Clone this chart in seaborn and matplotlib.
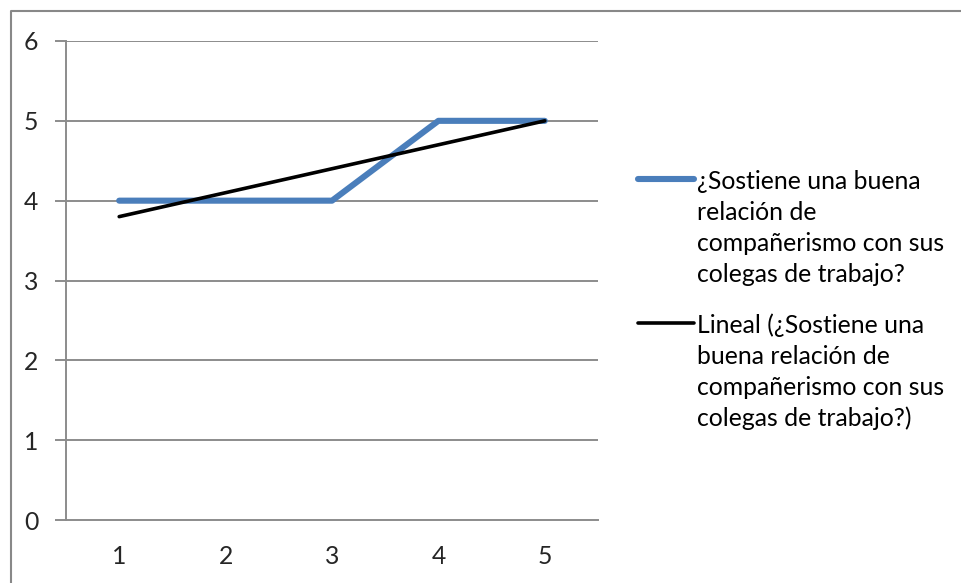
import numpy as np
import pandas as pd
import matplotlib
matplotlib.use("Agg")
import matplotlib.pyplot as plt
from matplotlib.lines import Line2D
import seaborn as sns

# Survey responses per item
categories = [1, 2, 3, 4, 5]
values = [4, 4, 4, 5, 5]
y_ticks = [0, 1, 2, 3, 4, 5, 6]

series_label = ["¿Sostiene una buena", "relación de",
                "compañerismo con sus", "colegas de trabajo?"]
trend_label = ["Lineal (¿Sostiene una", "buena relación de",
               "compañerismo con sus", "colegas de trabajo?)"]

sns.set_theme(style="white")
plt.rcParams["font.family"] = ["Lato", "DejaVu Sans"]

df = pd.DataFrame({"x": categories, "y": values})

W, H = 961, 583
fig = plt.figure(figsize=(W / 100, H / 100), dpi=100)
ax = fig.add_axes([66 / W, 1 - 520 / H, 532 / W, 479 / H])

grid_col = "#8c8c8c"
blue = "#4A7EBB"
fs = 17.8

ax.set_ylim(0, 6)
ax.set_xlim(0.5, 5.5)
ax.set_yticks(y_ticks)
for t in y_ticks[1:]:
    ax.axhline(t, color=grid_col, lw=1.4, zorder=0)

sns.lineplot(data=df, x="x", y="y", ax=ax, color=blue, lw=4.4,
             solid_capstyle="round", zorder=3, legend=False)
sns.regplot(data=df, x="x", y="y", ax=ax, scatter=False, ci=None,
            color="black", line_kws={"lw": 2.6, "zorder": 4}, truncate=True)
ax.set_xlabel("")
ax.set_ylabel("")

# Category axis: ticks on category boundaries, labels at centres
ax.set_xticks(np.arange(0.5, 6.0, 1.0))
ax.set_xticklabels([])
ax.set_xticks(categories, minor=True)
ax.set_xticklabels([str(c) for c in categories], minor=True)
ax.tick_params(axis="x", which="major", length=8, width=1.4, color=grid_col, direction="out")
ax.tick_params(axis="x", which="minor", length=0, pad=18, labelsize=fs)
ax.tick_params(axis="y", length=8, width=1.4, color=grid_col, direction="out",
               pad=12, labelsize=fs, left=True)
ax.set_yticklabels([str(t) for t in y_ticks])

for side in ["top", "right"]:
    ax.spines[side].set_visible(False)
for side in ["left", "bottom"]:
    ax.spines[side].set_color(grid_col)
    ax.spines[side].set_linewidth(1.4)

# Legend entries: handle line plus wrapped label, one baseline per row
def px(x, y):
    return x / W, 1 - y / H

line_step = 31
for (y0, col, lw, rows) in [(179, blue, 4.4, series_label),
                            (323, "black", 2.6, trend_label)]:
    (x1, yy), (x2, _) = px(638, y0), px(694, y0)
    fig.add_artist(Line2D([x1, x2], [yy, yy], color=col, lw=lw,
                          solid_capstyle="round", transform=fig.transFigure))
    for i, row in enumerate(rows):
        tx, ty = px(697, y0 + 10 + i * line_step)
        fig.text(tx, ty, row, ha="left", va="baseline", fontsize=fs,
                 color="black")

# Chart frame
fig.add_artist(Line2D([11 / W, 11 / W, 1], [0, 1 - 11 / H, 1 - 11 / H],
                      color="#888888", lw=1.5, transform=fig.transFigure))

fig.savefig("out.png", dpi=100)
